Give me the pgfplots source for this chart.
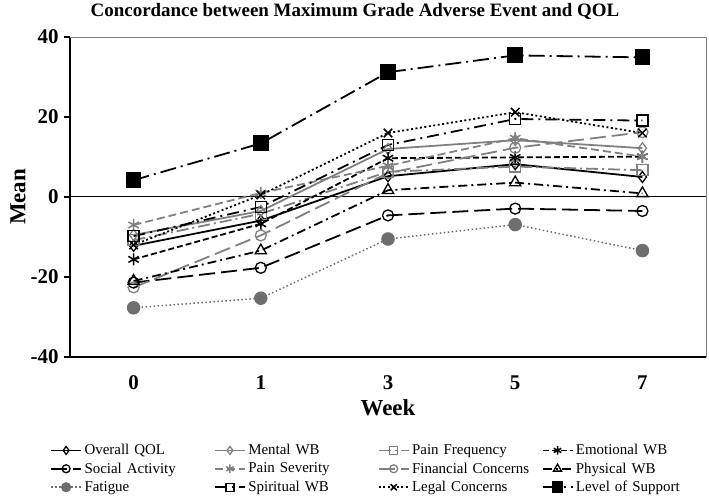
\documentclass[border=0pt]{standalone}
\usepackage{fontspec}
\setmainfont{Liberation Serif}
\usepackage{pgfplots}
\pgfplotsset{compat=1.18}
\definecolor{mgray}{HTML}{808080}
\definecolor{fgray}{HTML}{6E6E6E}
\begin{document}
\begin{tikzpicture}[x=1bp,y=1bp]
\path[use as bounding box] (0,0) rectangle (709,503);
\begin{axis}[
  at={(70bp,146bp)}, anchor=south west,
  scale only axis, width=636bp, height=320bp,
  xmin=-0.5, xmax=4.5, ymin=-40, ymax=40,
  axis x line*=bottom, axis y line*=left,
  axis line style={black, line width=1.3pt, -},
  xtick={0,1,2,3,4}, xticklabels={0,1,3,5,7},
  major x tick style={draw=none},
  ytick={-40,-20,0,20,40},
  y tick style={black, line width=1.3pt},
  tick align=outside, major tick length=6bp,
  /pgf/number format/assume math mode=true,
  tick label style={font=\fontsize{21}{24}\selectfont\bfseries},
  xticklabel style={yshift=-9bp},
  yticklabel style={xshift=-2bp},
  title={Concordance between Maximum Grade Adverse Event and QOL},
  title style={at={(axis description cs:0.448,1.062)}, anchor=center, font=\fontsize{19}{22}\selectfont\bfseries},
  xlabel={Week}, xlabel style={at={(axis description cs:0.5,-0.159)}, anchor=center, font=\fontsize{23}{26}\selectfont\bfseries},
  ylabel={Mean}, ylabel style={at={(axis description cs:-0.0818,0.5)}, anchor=center, font=\fontsize{23}{26}\selectfont\bfseries},
  clip=false,
  legend columns=4,
  legend cell align=left,
  legend style={draw=none, fill=none, at={(axis description cs:-0.0314,-0.265)}, anchor=north west,
    inner sep=0pt, font=\fontsize{15}{17}\selectfont, column sep=0bp, row sep=1.5bp,
    nodes={text width=127bp, align=left, inner sep=2.5bp}},
  legend image code/.code={\draw[mark repeat=2,mark phase=2, every mark/.append style={scale=0.72}] plot coordinates {(0bp,0bp) (15bp,0bp) (30bp,0bp)};},
]
\draw[black, line width=1pt] (axis cs:-0.5,0) -- (axis cs:4.5,0);
\draw[mgray, line width=0.8pt] (rel axis cs:0,1) -- (rel axis cs:1,1) -- (rel axis cs:1,0);

% Overall QOL
\addplot[black, line width=1.8pt, mark=diamond, mark size=5.5bp, mark options={solid, fill=white, line width=1.3pt}]
  coordinates {(0,-12.2) (1,-5.9) (2,5.2) (3,8.2) (4,5.0)};
\addlegendentry{Overall QOL}
% Mental WB
\addplot[mgray, line width=1.8pt, mark=diamond, mark size=5.5bp, mark options={solid, fill=white, line width=1.3pt}]
  coordinates {(0,-9.5) (1,-3.5) (2,12.0) (3,14.2) (4,12.2)};
\addlegendentry{Mental WB}
% Pain Frequency
\addplot[mgray, line width=1.8pt, dash pattern=on 12bp off 4bp on 2bp off 4bp, mark=square, mark size=5.5bp, mark options={solid, fill=white, line width=1.3pt}]
  coordinates {(0,-10.8) (1,-4.2) (2,6.3) (3,7.6) (4,6.7)};
\addlegendentry{Pain Frequency}
% Emotional WB
\addplot[black, line width=1.8pt, dash pattern=on 6bp off 3bp, mark=asterisk, mark size=6bp, mark options={solid, line width=1.5pt}]
  coordinates {(0,-15.6) (1,-6.7) (2,9.7) (3,9.9) (4,10.1)};
\addlegendentry{Emotional WB}
% Social Activity
\addplot[black, line width=1.8pt, dash pattern=on 16bp off 6bp, mark=o, mark size=5.5bp, mark options={solid, fill=white, line width=1.3pt}]
  coordinates {(0,-21.4) (1,-17.7) (2,-4.6) (3,-2.9) (4,-3.5)};
\addlegendentry{Social Activity}
% Pain Severity
\addplot[mgray, line width=1.8pt, dash pattern=on 8bp off 4bp, mark=asterisk, mark size=6bp, mark options={solid, line width=1.5pt}]
  coordinates {(0,-7.0) (1,1.0) (2,7.8) (3,14.7) (4,10.1)};
\addlegendentry{Pain Severity}
% Financial Concerns
\addplot[mgray, line width=1.8pt, dash pattern=on 16bp off 6bp, mark=o, mark size=5.5bp, mark options={solid, fill=white, line width=1.3pt}]
  coordinates {(0,-22.6) (1,-9.6) (2,6.0) (3,12.3) (4,16.2)};
\addlegendentry{Financial Concerns}
% Physical WB
\addplot[black, line width=1.8pt, dash pattern=on 9bp off 4bp on 2bp off 4bp, mark=triangle, mark size=6.5bp, mark options={solid, fill=white, line width=1.3pt}]
  coordinates {(0,-21.0) (1,-13.4) (2,1.7) (3,3.6) (4,0.9)};
\addlegendentry{Physical WB}
% Fatigue
\addplot[fgray, line width=1.5pt, dash pattern=on 1.5bp off 2.5bp, mark=*, mark size=6bp, mark options={solid, fill=fgray, draw=fgray}]
  coordinates {(0,-27.7) (1,-25.3) (2,-10.5) (3,-6.9) (4,-13.4)};
\addlegendentry{Fatigue}
% Spiritual WB
\addplot[black, line width=1.8pt, dash pattern=on 12bp off 5bp on 2bp off 5bp, mark=square, mark size=5.5bp, mark options={solid, fill=white, line width=1.3pt}]
  coordinates {(0,-9.8) (1,-2.5) (2,13.0) (3,19.5) (4,19.1)};
\addlegendentry{Spiritual WB}
% Legal Concerns
\addplot[black, line width=1.8pt, dash pattern=on 2bp off 2.5bp, mark=x, mark size=6bp, mark options={solid, line width=1.5pt}]
  coordinates {(0,-12.0) (1,0.5) (2,16.0) (3,21.2) (4,16.0)};
\addlegendentry{Legal Concerns}
% Level of Support
\addplot[black, line width=1.8pt, dash pattern=on 16bp off 5bp on 2bp off 5bp, mark=square*, mark size=7bp, mark options={solid, fill=black}]
  coordinates {(0,4.2) (1,13.4) (2,31.2) (3,35.4) (4,34.9)};
\addlegendentry{Level of Support}
\end{axis}
\end{tikzpicture}
\end{document}
